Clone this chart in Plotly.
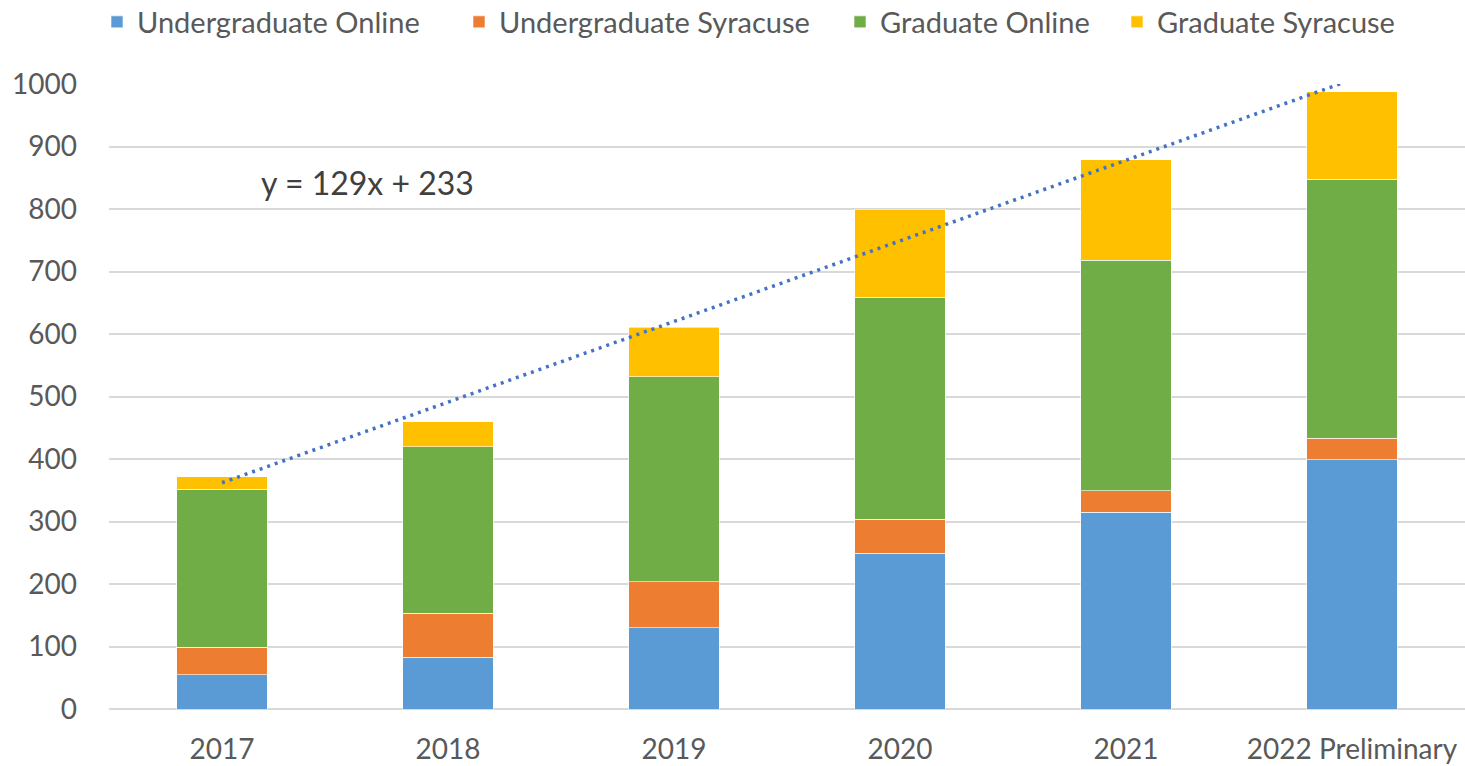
import plotly.graph_objects as go

categories = ["2017", "2018", "2019", "2020", "2021", "2022 Preliminary"]
undergrad_online = [55, 83, 130, 249, 315, 399]
undergrad_syracuse = [44, 70, 74, 55, 34, 34]
grad_online = [253, 267, 328, 355, 369, 415]
grad_syracuse = [20, 40, 79, 141, 161, 140]

# Linear trendline shown on the chart: y = 129x + 233 (x = 1..6)
trend_slope = 129
trend_intercept = 233

series = [
    ("Undergraduate Online", undergrad_online, "#5B9BD5"),
    ("Undergraduate Syracuse", undergrad_syracuse, "#ED7D31"),
    ("Graduate Online", grad_online, "#70AD47"),
    ("Graduate Syracuse", grad_syracuse, "#FFC000"),
]
legend_x_px = [97, 459, 840, 1117]

FONT = "Lato"
GREY = "#595959"
W, H = 1465, 766

fig = go.Figure()
legend_layout = {}
for i, (name, vals, col) in enumerate(series):
    lg = "legend" if i == 0 else f"legend{i+1}"
    fig.add_trace(go.Bar(
        x=categories, y=vals, name=name, legend=lg,
        marker=dict(color=col, line=dict(color="rgba(255,255,255,0.6)", width=1)),
    ))
    legend_layout[lg] = dict(
        orientation="h", xref="container", yref="container",
        x=legend_x_px[i] / W, xanchor="left", y=1 - 22 / H, yanchor="middle",
        font=dict(family=FONT, size=29, color=GREY), itemwidth=30,
        bgcolor="rgba(0,0,0,0)",
    )

idx = list(range(1, len(categories) + 1))
trend = [trend_slope * i + trend_intercept for i in idx]
fig.add_trace(go.Scatter(
    x=categories, y=trend, mode="lines", showlegend=False, hoverinfo="skip",
    line=dict(color="#4472C4", width=3.5, dash="3px,5px"),
))

fig.add_annotation(
    xref="paper", yref="y", x=(259 - 109) / 1356, y=843, xanchor="left", yanchor="middle",
    text=f"y = {trend_slope}x + {trend_intercept}", showarrow=False,
    font=dict(family=FONT, size=32, color="#404040"),
)

fig.update_layout(
    barmode="stack",
    bargap=0.6,
    width=W, height=H,
    margin=dict(l=109, r=0, t=84, b=57, autoexpand=False),
    plot_bgcolor="white", paper_bgcolor="white",
    font=dict(family=FONT, size=28, color=GREY),
    showlegend=True,
    **legend_layout,
)
fig.update_yaxes(
    range=[0, 1000], dtick=100, showgrid=True, gridcolor="#D9D9D9", gridwidth=1.5,
    zeroline=True, zerolinecolor="#D9D9D9", zerolinewidth=1.5,
    showline=False, ticks="", ticklabelstandoff=31, automargin=False,
    tickfont=dict(family=FONT, size=28, color=GREY),
)
fig.update_xaxes(
    showgrid=False, showline=False, ticks="", ticklabelstandoff=21, automargin=False,
    tickfont=dict(family=FONT, size=28, color=GREY),
)

fig.write_html(
    "out.html",
    config={"displayModeBar": False},
    post_script="document.body.style.margin='0px';document.body.style.overflow='hidden';",
)
